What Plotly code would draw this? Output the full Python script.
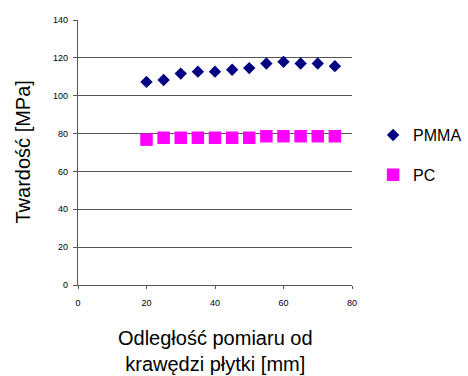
import plotly.graph_objects as go

x_mm = [20, 25, 30, 35, 40, 45, 50, 55, 60, 65, 70, 75]
pmma = [107.3, 108.3, 111.7, 112.7, 112.7, 113.7, 114.6, 117.0, 117.9, 117.0, 117.0, 115.6]
pc = [76.8, 77.8, 77.8, 77.8, 77.8, 77.8, 77.8, 78.6, 78.6, 78.6, 78.6, 78.6]
y_ticks = [0, 20, 40, 60, 80, 100, 120, 140]
grid_vals = [20, 40, 60, 80, 100, 120]
x_ticks = [0, 20, 40, 60, 80]

FONT = "Liberation Sans, Arial, sans-serif"
AX = "#555555"

fig = go.Figure()
fig.add_trace(go.Scatter(x=x_mm, y=pmma, mode="markers", name="PMMA", legendgroup="a",
                         marker=dict(symbol="diamond", size=9.5, color="#000080", line=dict(width=0))))
fig.add_trace(go.Scatter(x=x_mm, y=pc, mode="markers", name="PC", legendgroup="b",
                         marker=dict(symbol="square", size=12.5, color="#FF00FF", line=dict(width=0))))

fig.update_layout(
    width=468, height=376,
    margin=dict(l=78, r=116, t=20, b=91, autoexpand=False),
    paper_bgcolor="white", plot_bgcolor="white",
    font=dict(family=FONT, color="black"),
    showlegend=True,
    legend=dict(x=1.077, xanchor="left", y=0.49, yanchor="middle",
                font=dict(size=16, family=FONT), tracegroupgap=16,
                bgcolor="rgba(0,0,0,0)"),
    xaxis=dict(range=[0, 80], tickvals=x_ticks, showgrid=False, zeroline=False,
               showline=True, linecolor=AX, linewidth=1.3,
               ticks="outside", ticklen=3, tickcolor=AX, tickwidth=1,
               tickfont=dict(size=9), ticklabelstandoff=6),
    yaxis=dict(range=[0, 140], tickvals=y_ticks, showgrid=False, zeroline=False,
               showline=True, linecolor=AX, linewidth=1.3,
               ticks="outside", ticklen=4, tickcolor=AX, tickwidth=1,
               tickfont=dict(size=9), ticklabelstandoff=3,
               minor=dict(tickvals=grid_vals, showgrid=True, gridcolor=AX, gridwidth=1.2,
                          ticks="")),
    annotations=[
        dict(text="Twardość [MPa]", xref="paper", yref="paper", x=0, y=0.5,
             xanchor="center", yanchor="middle", xshift=-56, textangle=-90,
             showarrow=False, font=dict(size=20, family=FONT)),
        dict(text="Odległość pomiaru od<br>krawędzi płytki [mm]",
             xref="paper", yref="paper", x=0.5, y=0,
             xanchor="center", yanchor="middle", yshift=-66,
             showarrow=False, font=dict(size=20, family=FONT)),
    ],
)

fig.write_html("out.html")
